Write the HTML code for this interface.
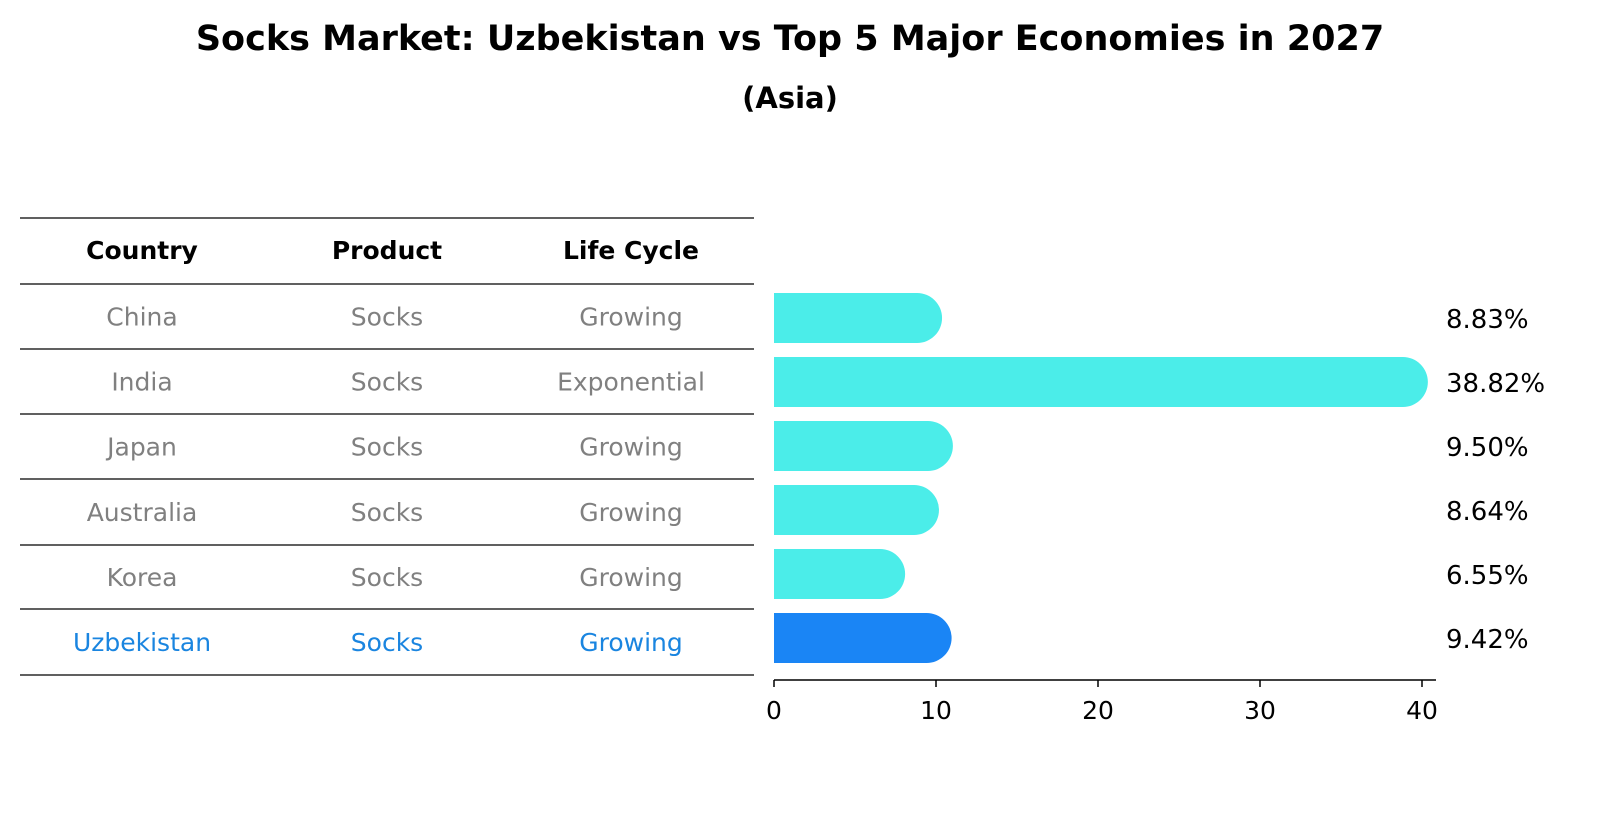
<!DOCTYPE html>
<html><head><meta charset="utf-8"><style>
body{margin:0;background:#fff;font-family:"DejaVu Sans","Liberation Sans",sans-serif}
svg text{font-family:"DejaVu Sans","Liberation Sans",sans-serif}
</style></head><body>
<svg width="1604" height="823" viewBox="0 0 1604 823" xmlns="http://www.w3.org/2000/svg">
<text x="790" y="50" text-anchor="middle" font-size="35" font-weight="bold">Socks Market: Uzbekistan vs Top 5 Major Economies in 2027</text>
<text x="790" y="108" text-anchor="middle" font-size="29" font-weight="bold">(Asia)</text>
<g id="table"></g>
<g id="bars"></g>
</svg>
<script>
const countries=["China","India","Japan","Australia","Korea","Uzbekistan"];
const products=["Socks","Socks","Socks","Socks","Socks","Socks"];
const lifeCycles=["Growing","Exponential","Growing","Growing","Growing","Growing"];
const shares=[8.83,38.82,9.50,8.64,6.55,9.42];
const shareLabels=["8.83%","38.82%","9.50%","8.64%","6.55%","9.42%"];
const ticks=[0,10,20,30,40];
const NS="http://www.w3.org/2000/svg";
function mk(tag,attrs,parent,txt){const e=document.createElementNS(NS,tag);for(const k in attrs)e.setAttribute(k,attrs[k]);if(txt!==undefined)e.textContent=txt;parent.appendChild(e);return e;}
const tbl=document.getElementById('table');
const lineYs=[218,284,349,414,479,545,609,675];
const colX=[142,387,631];
lineYs.forEach((y,i)=>{const l=mk('line',{x1:20,x2:754,y1:y,y2:y,stroke:'#000','stroke-width':1.2},tbl);

});
["Country","Product","Life Cycle"].forEach((h,i)=>{const t=mk('text',{x:colX[i],y:259,'text-anchor':'middle','font-size':25,'font-weight':'bold'},tbl,h);

});
countries.forEach((c,r)=>{const y=(lineYs[r+1]+lineYs[r+2])/2+9;const col=c==="Uzbekistan"?"#1a85e0":"#808080";
[c,products[r],lifeCycles[r]].forEach((v,i)=>{const t=mk('text',{x:colX[i],y:y,'text-anchor':'middle','font-size':25,fill:col},tbl,v);

});});
const g=document.getElementById('bars');
const x0=774,ppu=16.2;const xs=v=>x0+v*ppu;
const yc=r=>318+r*64;const bh=50;
shares.forEach((v,r)=>{const col=countries[r]==="Uzbekistan"?"#1a85f5":"#4bede9";
const w=xs(v)-x0;const y=yc(r)-bh/2;
const p=mk('path',{d:`M${x0},${y} H${x0+w} A25,25 0 0 1 ${x0+w},${y+bh} H${x0} Z`,fill:col},g);


const t=mk('text',{x:1446,y:yc(r)+10,'font-size':26},g,shareLabels[r]);

});
const ax=mk('line',{x1:x0,x2:1436,y1:680,y2:680,stroke:'#000','stroke-width':1.5},g);


ticks.forEach(t=>{const l=mk('line',{x1:xs(t),x2:xs(t),y1:680,y2:687,stroke:'#000','stroke-width':1.5},g);


const tx=mk('text',{x:xs(t),y:719,'text-anchor':'middle','font-size':25},g,String(t));

});
</script>
</body></html>
